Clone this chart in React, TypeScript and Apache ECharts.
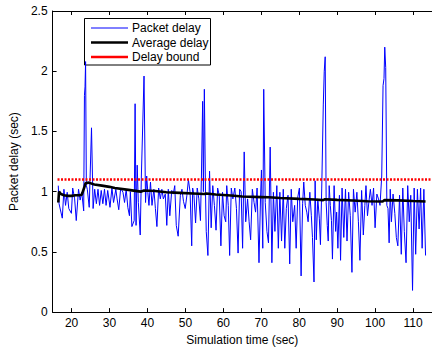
import React, { useEffect, useRef } from "react";
import * as echarts from "echarts";

const FONT = "'Liberation Sans', Arial, Helvetica, sans-serif";

const xTicks = [20, 30, 40, 50, 60, 70, 80, 90, 100, 110];

const packetTimes = [
  16.5, 16.7, 17.56, 17.99, 18.42, 18.85, 19.27, 19.96, 20.3, 20.81, 21.24, 21.84, 22.26, 22.69, 23.2, 23.4, 23.55, 23.7, 23.9,
  24.15, 24.66, 25.26, 25.68, 26.1, 26.54, 26.97, 27.39, 27.82, 28.25, 28.68, 29.1, 29.53, 30.13, 30.64, 31.07, 31.67, 32.0,
  32.44, 32.95, 33.55, 33.97, 34.4, 34.83, 35.26, 35.5, 35.9, 36.5, 36.75, 37.0, 37.3, 37.6, 38.1, 38.4, 39.1, 39.5, 39.8,
  40.1, 40.4, 40.8, 41.2, 41.7, 42.1, 42.5, 42.95, 43.4, 43.8, 44.2, 44.7, 45.1, 45.5, 45.9, 46.4, 46.8, 47.2, 47.6, 48.1,
  48.67, 49.1, 49.5, 49.96, 50.4, 50.8, 51.24, 51.67, 51.92, 52.26, 52.69, 53.12, 53.55, 53.97, 54.23, 54.55, 54.75, 55.0,
  55.3, 55.5, 55.94, 56.37, 56.8, 57.22, 57.65, 58.08, 58.5, 58.93, 59.36, 59.79, 60.21, 60.64, 60.9, 61.3, 61.67, 62.1,
  62.52, 63.03, 63.46, 63.89, 64.3, 64.7, 65.08, 65.5, 65.9, 66.4, 66.8, 67.2, 67.65, 68.1, 68.5, 68.9, 69.4, 69.8, 70.05,
  70.4, 70.65, 71.05, 71.5, 71.9, 72.35, 72.8, 73.2, 73.6, 74.1, 74.5, 74.9, 75.35, 75.8, 76.2, 76.6, 77.05, 77.5, 77.9,
  78.3, 78.8, 79.2, 79.6, 80.05, 80.5, 80.9, 81.2, 81.6, 82.0, 82.35, 82.8, 83.2, 83.5, 83.9, 84.2, 84.5, 84.9, 85.3, 85.6,
  85.94, 86.35, 86.6, 86.85, 87.1, 87.4, 87.65, 87.9, 88.2, 88.5, 88.76, 89.2, 89.6, 89.87, 90.2, 90.6, 90.9, 91.3, 91.75,
  92.2, 92.6, 93.03, 93.46, 93.9, 94.3, 94.75, 95.2, 95.6, 96.0, 96.45, 96.9, 97.3, 97.6, 98.0, 98.35, 98.76, 99.2, 99.6,
  100.0, 100.47, 100.9, 101.3, 101.75, 102.1, 102.35, 102.55, 102.8, 103.1, 103.4, 103.7, 104.0, 104.3, 104.74, 105.2,
  105.6, 106.0, 106.45, 106.9, 107.3, 107.7, 108.16, 108.6, 109.0, 109.4, 109.87, 110.3, 110.7, 111.15, 111.6, 112.0,
  112.4, 112.86, 113.3,
];

const packetDelay = [
  1.05, 0.9, 0.78, 1.02, 0.886, 0.995, 0.86, 0.82, 1.03, 0.94, 0.76, 1.02, 0.93, 0.995, 0.84, 1.8, 1.87, 2.08, 1.05,
  1.02, 0.87, 1.53, 0.86, 1.02, 0.9, 1.02, 0.886, 1.01, 0.9, 1.02, 0.886, 1.01, 0.87, 1.03, 0.91, 1.02, 0.94,
  0.85, 1.03, 0.995, 0.91, 1.02, 0.87, 0.8, 1.0, 0.71, 0.76, 1.73, 0.72, 1.22, 0.91, 0.64, 1.13, 1.96, 0.91, 1.13,
  0.995, 0.886, 1.08, 0.886, 1.02, 0.86, 0.71, 1.03, 0.94, 1.02, 0.94, 0.98, 0.72, 1.02, 0.8, 1.01, 0.98, 1.05, 0.72, 0.63,
  0.97, 1.02, 0.92, 0.86, 0.97, 1.1, 0.995, 0.55, 1.03, 0.97, 0.74, 1.03, 0.94, 0.76, 1.13, 1.75, 1.0, 1.85,
  0.995, 0.67, 0.47, 1.17, 0.7, 1.05, 0.886, 0.68, 1.03, 0.97, 0.55, 0.995, 0.8, 0.75, 1.05, 0.886, 0.47, 1.03,
  0.94, 1.03, 0.86, 0.49, 1.02, 1.0, 0.53, 1.33, 0.75, 0.94, 0.75, 0.6, 1.02, 0.91, 0.83, 1.03, 0.41, 0.94, 1.18,
  0.53, 1.85, 0.91, 0.67, 0.575, 1.37, 0.41, 0.995, 0.67, 1.05, 0.53, 0.995, 0.59, 1.02, 0.53, 0.86, 0.97, 0.4, 1.02,
  0.75, 0.886, 0.53, 0.95, 1.03, 0.3, 0.9, 1.08, 0.886, 0.83, 0.75, 0.995, 0.8, 0.62, 0.25, 1.09, 0.6, 0.94, 0.78, 0.56,
  1.03, 1.72, 2.0, 2.12, 0.91, 0.72, 0.59, 1.05, 0.886, 0.76, 0.44, 1.05, 0.67, 0.83, 0.53, 0.97, 0.43, 1.03, 0.62,
  1.02, 0.59, 0.995, 0.8, 0.33, 1.02, 0.83, 0.995, 0.75, 0.43, 1.01, 0.64, 0.886, 1.05, 0.8, 0.91, 1.02, 0.886, 1.03,
  0.7, 0.98, 0.94, 0.886, 1.13, 1.88, 1.94, 2.2, 2.03, 0.886, 0.86, 0.575, 1.02, 0.75, 0.98, 0.82,
  0.62, 0.55, 0.97, 0.48, 1.03, 0.67, 0.41, 1.05, 0.75, 0.97, 0.18, 1.03, 0.48, 1.02, 0.69, 1.03,
  0.53, 1.02, 0.47,
];

const avgTimes = [
  16.5, 16.7, 17.2, 18, 19, 20, 21, 22, 22.7, 23.3, 23.7, 24.5, 26, 28, 30, 31.4, 35, 38.2, 39.1, 42, 45, 48.5, 52, 55,
  55.5, 58, 62, 65, 70, 72, 75, 80, 84, 86.3, 86.8, 90, 94, 98, 102, 102.5, 106, 110, 113.3,
];

const avgDelay = [
  0.91, 1.0, 0.98, 0.97, 0.965, 0.965, 0.97, 0.97, 0.975, 1.03, 1.07, 1.075, 1.06, 1.05, 1.04, 1.03, 1.015, 1.0, 1.01,
  1.005, 0.995, 0.99, 0.985, 0.98, 0.985, 0.977, 0.968, 0.96, 0.955, 0.953, 0.947, 0.94, 0.935, 0.93, 0.937, 0.932,
  0.927, 0.92, 0.918, 0.93, 0.928, 0.922, 0.918,
];

const boundTimes = [16.3, 115];
const boundDelay = [1.1, 1.1];

const seriesNames = ["Packet delay", "Average delay", "Delay bound"];
const seriesColors = ["#0000ff", "#000000", "#ff0000"];
const legendLineWidths = [1, 2.6, 2.5];

export default function App() {
  const ref = useRef<HTMLDivElement>(null);
  useEffect(() => {
    if (!ref.current) return;
    const chart = echarts.init(ref.current, undefined, { renderer: "svg" });
    const zip = (xs: number[], ys: number[]) => xs.map((x, i) => [x, ys[i]]);
    const tickCommon = { inside: true, length: 4, lineStyle: { color: "#000", width: 1 } };

    const legendLeft = 84.5;
    const legendTop = 18.5;
    const rowH = 14.5;
    const legendChildren: any[] = [
      {
        type: "rect",
        shape: { x: legendLeft, y: legendTop, width: 126, height: 46.5 },
        style: { fill: "#fff", stroke: "#000", lineWidth: 1 },
      },
    ];
    seriesNames.forEach((name, i) => {
      const cy = legendTop + 9.5 + i * rowH;
      legendChildren.push({
        type: "line",
        shape: { x1: legendLeft + 6.5, y1: cy, x2: legendLeft + 43.5, y2: cy },
        style: { stroke: seriesColors[i], lineWidth: legendLineWidths[i] },
      });
      legendChildren.push({
        type: "text",
        x: legendLeft + 47.5,
        y: cy,
        style: {
          text: name,
          fill: "#000",
          font: `12px ${FONT}`,
          textVerticalAlign: "middle",
          verticalAlign: "middle",
        },
      });
    });

    chart.setOption({
      animation: false,
      backgroundColor: "#fff",
      textStyle: { fontFamily: FONT },
      grid: { left: 50, top: 11, right: -8, bottom: 32, containLabel: false },
      graphic: [{ type: "group", z: 100, children: legendChildren }],
      xAxis: [
        {
          type: "value",
          min: 15,
          max: 115,
          position: "bottom",
          axisLine: { onZero: false, lineStyle: { color: "#000", width: 1 } },
          axisTick: { ...tickCommon, customValues: xTicks },
          axisLabel: { customValues: xTicks, color: "#000", fontSize: 12, margin: 5, fontFamily: FONT },
          splitLine: { show: false },
          name: "Simulation time (sec)",
          nameLocation: "middle",
          nameGap: 18,
          nameTextStyle: { color: "#000", fontSize: 12, fontFamily: FONT },
        },
        {
          type: "value",
          min: 15,
          max: 115,
          position: "top",
          axisLine: { onZero: false, lineStyle: { color: "#000", width: 1 } },
          axisTick: { ...tickCommon, customValues: xTicks },
          axisLabel: { show: false },
          splitLine: { show: false },
        },
      ],
      yAxis: [
        {
          type: "value",
          min: 0,
          max: 2.5,
          interval: 0.5,
          position: "left",
          axisLine: { show: true, onZero: false, lineStyle: { color: "#000", width: 1 } },
          axisTick: { show: true, ...tickCommon },
          axisLabel: { color: "#000", fontSize: 12, margin: 5, fontFamily: FONT },
          splitLine: { show: false },
          name: "Packet delay (sec)",
          nameLocation: "middle",
          nameGap: 26,
          nameTextStyle: { color: "#000", fontSize: 12, fontFamily: FONT },
        },
      ],
      series: [
        {
          name: seriesNames[0],
          type: "line",
          data: zip(packetTimes, packetDelay),
          showSymbol: false,
          symbol: "none",
          lineStyle: { color: seriesColors[0], width: 1 },
          itemStyle: { color: seriesColors[0] },
          z: 2,
        },
        {
          name: seriesNames[1],
          type: "line",
          data: zip(avgTimes, avgDelay),
          showSymbol: false,
          symbol: "none",
          lineStyle: { color: seriesColors[1], width: 2.6 },
          itemStyle: { color: seriesColors[1] },
          z: 3,
        },
        {
          name: seriesNames[2],
          type: "line",
          data: zip(boundTimes, boundDelay),
          showSymbol: false,
          symbol: "none",
          lineStyle: { color: seriesColors[2], width: 2.5, type: [2, 1.5] },
          itemStyle: { color: seriesColors[2] },
          z: 4,
        },
      ],
    });
    return () => chart.dispose();
  }, []);
  return <div ref={ref} style={{ position: "fixed", left: 0, top: 0, width: 432, height: 351 }} />;
}
